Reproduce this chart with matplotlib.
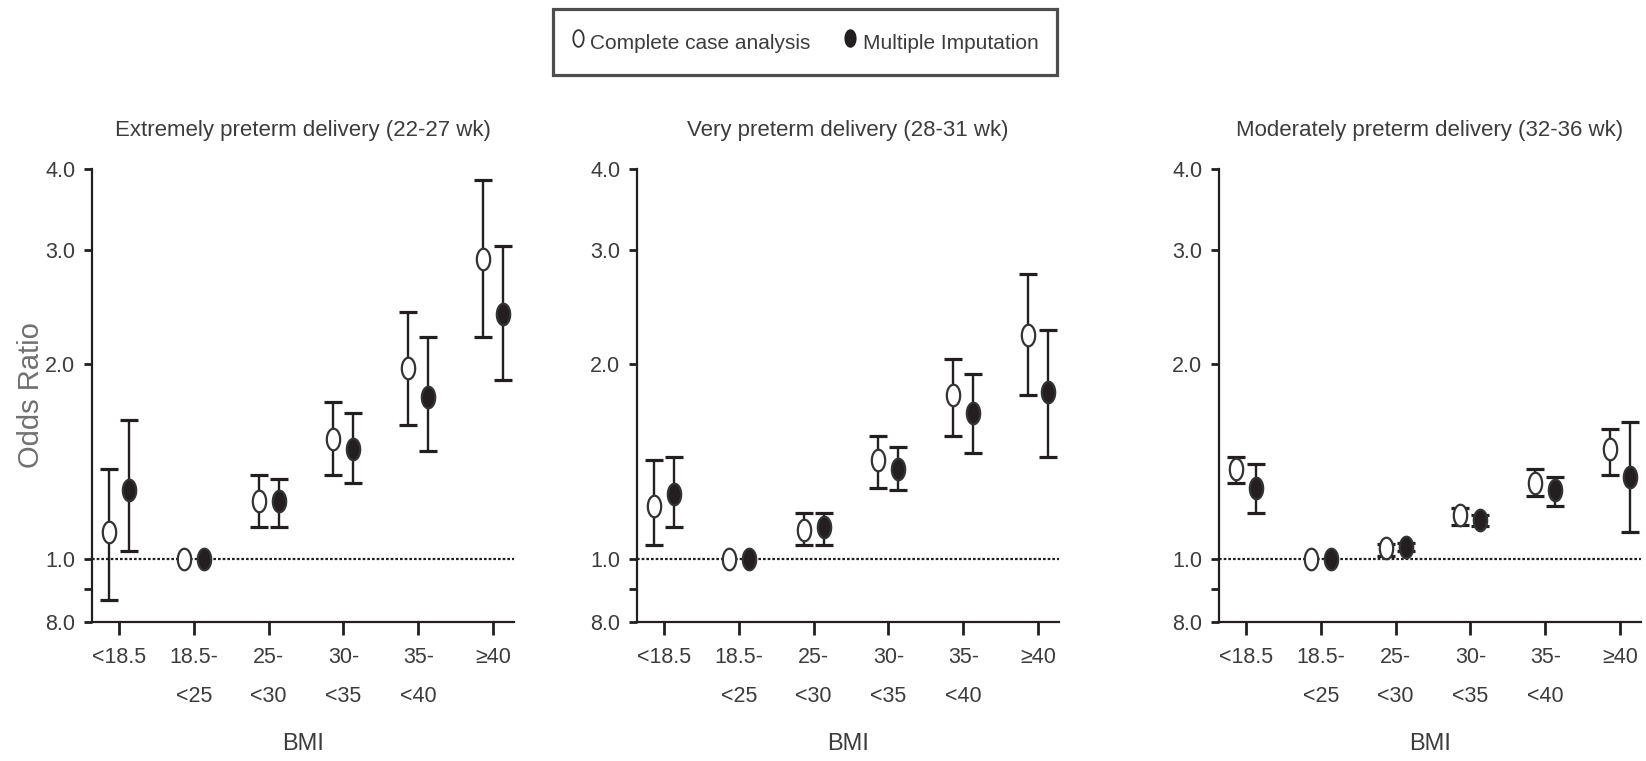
import numpy as np
import matplotlib
matplotlib.use("Agg")
import matplotlib.pyplot as plt
from matplotlib import font_manager
from matplotlib.path import Path

# ---------------- data ----------------
categories = ['<18.5', '18.5-\n<25', '25-\n<30', '30-\n<35', '35-\n<40', '≥40']
titles = ['Extremely preterm delivery (22-27 wk)',
          'Very preterm delivery (28-31 wk)',
          'Moderately preterm delivery (32-36 wk)']

# Extremely preterm
p1_cc_or = [1.10, 1.00, 1.23, 1.53, 1.97, 2.91]
p1_cc_lo = [0.865, 1.00, 1.12, 1.35, 1.61, 2.20]
p1_cc_hi = [1.38, 1.00, 1.35, 1.75, 2.41, 3.84]
p1_mi_or = [1.28, 1.00, 1.23, 1.48, 1.78, 2.39]
p1_mi_lo = [1.03, 1.00, 1.12, 1.31, 1.47, 1.89]
p1_mi_hi = [1.64, 1.00, 1.33, 1.68, 2.20, 3.04]

# Very preterm
p2_cc_or = [1.21, 1.00, 1.11, 1.42, 1.79, 2.22]
p2_cc_lo = [1.05, 1.00, 1.05, 1.29, 1.55, 1.79]
p2_cc_hi = [1.42, 1.00, 1.18, 1.55, 2.04, 2.75]
p2_mi_or = [1.26, 1.00, 1.12, 1.38, 1.68, 1.81]
p2_mi_lo = [1.12, 1.00, 1.05, 1.28, 1.46, 1.44]
p2_mi_hi = [1.44, 1.00, 1.18, 1.49, 1.93, 2.26]

# Moderately preterm
p3_cc_or = [1.38, 1.00, 1.04, 1.17, 1.31, 1.48]
p3_cc_lo = [1.31, 1.00, 1.01, 1.13, 1.25, 1.35]
p3_cc_hi = [1.44, 1.00, 1.055, 1.20, 1.38, 1.59]
p3_mi_or = [1.29, 1.00, 1.045, 1.15, 1.28, 1.34]
p3_mi_lo = [1.18, 1.00, 1.03, 1.125, 1.21, 1.10]
p3_mi_hi = [1.40, 1.00, 1.06, 1.17, 1.34, 1.63]

ytick_vals = [0.8, 0.9, 1.0, 2.0, 3.0, 4.0]
ytick_labels = ['8.0', '', '1.0', '2.0', '3.0', '4.0']
series_labels = ['Complete case analysis', 'Multiple Imputation']

# ---------------- style ----------------
names = {f.name for f in font_manager.fontManager.ttflist}
fam = None
for cand in ['Liberation Sans Narrow', 'Liberation Sans', 'DejaVu Sans']:
    if cand in names:
        fam = cand
        break
plt.rcParams['font.family'] = [fam, 'DejaVu Sans']

INK = '#231f20'
TXT = '#3c3c3c'

# vertical ellipse marker
t = np.linspace(0, 2 * np.pi, 60)
ell = Path(np.column_stack([0.62 * np.cos(t), np.sin(t)]), closed=True)

fig = plt.figure(figsize=(16.46, 7.61), dpi=100)
lefts = [92 / 1646, 637 / 1646, 1219 / 1646]
width = 422 / 1646
bottom = 1 - 622 / 761
height = (622 - 169) / 761

panels = [
    (p1_cc_or, p1_cc_lo, p1_cc_hi, p1_mi_or, p1_mi_lo, p1_mi_hi),
    (p2_cc_or, p2_cc_lo, p2_cc_hi, p2_mi_or, p2_mi_lo, p2_mi_hi),
    (p3_cc_or, p3_cc_lo, p3_cc_hi, p3_mi_or, p3_mi_lo, p3_mi_hi),
]

x = np.arange(len(categories))
off = 0.134
for i, (cc, cl, ch, mi, ml, mh) in enumerate(panels):
    ax = fig.add_axes([lefts[i], bottom, width, height])
    cc, cl, ch = map(np.array, (cc, cl, ch))
    mi, ml, mh = map(np.array, (mi, ml, mh))
    ax.axhline(1.0, color=INK, lw=1.6, ls=(0, (1.2, 0.9)), zorder=1)
    for vals, lo, hi, dx, face in [(cc, cl, ch, -off, 'white'), (mi, ml, mh, off, INK)]:
        m = hi > lo
        ax.errorbar(x[m] + dx, vals[m], yerr=[vals[m] - lo[m], hi[m] - vals[m]],
                    fmt='none', ecolor=INK, elinewidth=1.7, capsize=6.5,
                    capthick=2.3, zorder=2)
        ax.plot(x + dx, vals, ls='none', marker=ell, ms=15.5,
                mfc=face, mec='#333333', mew=1.6, zorder=3)
    ax.set_yscale('log')
    ax.set_ylim(0.8, 4.0)
    ax.set_xlim(-0.362, 5.28)
    ax.yaxis.set_major_locator(matplotlib.ticker.FixedLocator(ytick_vals))
    ax.yaxis.set_major_formatter(matplotlib.ticker.FixedFormatter(ytick_labels))
    ax.yaxis.set_minor_locator(matplotlib.ticker.NullLocator())
    ax.set_xticks(x)
    ax.set_xticklabels(categories, linespacing=2.1)
    for s in ['top', 'right']:
        ax.spines[s].set_visible(False)
    for s in ['left', 'bottom']:
        ax.spines[s].set_linewidth(1.6)
        ax.spines[s].set_color(INK)
    ax.tick_params(axis='y', length=6, width=2, color=INK, labelsize=15.5,
                   labelcolor=TXT, pad=6)
    ax.tick_params(axis='x', length=9, width=2, color=INK, labelsize=15.5,
                   labelcolor=TXT, pad=9)
    ax.set_xlabel('BMI', fontsize=17, color=TXT, va='center')
    ax.xaxis.set_label_coords(0.5, (622 - 744) / 453)
    ax.set_title(titles[i], fontsize=16, color=TXT, pad=24)
    if i == 0:
        ax.set_ylabel('Odds Ratio', fontsize=21, color='#707070', labelpad=0)

# legend
h1 = plt.Line2D([], [], ls='none', marker=ell, ms=12, mfc='white', mec='#333333', mew=1.3)
h2 = plt.Line2D([], [], ls='none', marker=ell, ms=12, mfc=INK, mec=INK, mew=1.3)
leg = fig.legend([h1, h2], series_labels, loc='center', ncol=2,
                 bbox_to_anchor=(805 / 1646, 1 - 42 / 761), fontsize=15,
                 frameon=True, fancybox=False, edgecolor=INK,
                 handlelength=0.6, handleheight=1.8, handletextpad=0.3,
                 columnspacing=1.6, borderpad=0.9, borderaxespad=0)
leg.get_frame().set_linewidth(2.3)
for txt in leg.get_texts():
    txt.set_color(TXT)

fig.savefig('out.png', dpi=100)
